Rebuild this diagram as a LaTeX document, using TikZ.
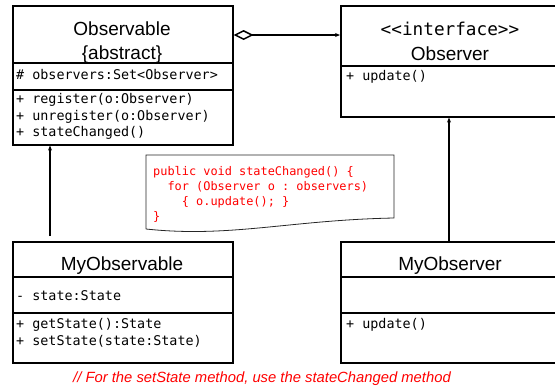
\documentclass[tikz,border=0pt]{standalone}
\usepackage{fontspec}
\setmainfont{Liberation Sans}
\setmonofont{DejaVu Sans Mono}
\usetikzlibrary{arrows.meta}
\begin{document}
\begin{tikzpicture}[x=1pt,y=-1pt,
  classbox/.style={draw, line width=1.6pt, rectangle, minimum width=220pt,
    anchor=north west, inner sep=0pt},
  sepline/.style={line width=1.6pt},
  title/.style={font=\fontsize{19}{23}\selectfont, anchor=base, inner sep=0pt},
  member/.style={font=\ttfamily\fontsize{13.4}{16}\selectfont, anchor=base west, inner sep=0pt},
  stereo/.style={font=\ttfamily\fontsize{17.7}{21}\selectfont, anchor=base, inner sep=0pt},
  code/.style={font=\ttfamily\fontsize{11.9}{14}\selectfont, text=red, anchor=base west, inner sep=0pt},
  link/.style={line width=1.5pt, -{Stealth[length=5pt,width=4pt]}},
]
\useasboundingbox (0,0) rectangle (555,389);
\clip (0,0) rectangle (555,389);

% class boxes
\node[classbox, minimum height=139pt] (obs)    at (12,5)   {};
\node[classbox, minimum height=111pt] (obsr)   at (340,5)  {};
\node[classbox, minimum height=121pt] (myobs)  at (12,241) {};
\node[classbox, minimum height=121pt] (myobsr) at (340,241) {};

% compartment separators
\draw[sepline] (12,63) -- (232,63);
\draw[sepline] (12,90) -- (232,90);
\draw[sepline] (340,66) -- (560,66);
\draw[sepline] (12,277) -- (232,277);
\draw[sepline] (12,313) -- (232,313);
\draw[sepline] (340,277) -- (560,277);
\draw[sepline] (340,313) -- (560,313);

% Observable
\node[title] (obsname) at (122,35) {Observable};
\node[title] (obsabs)  at (122,59) {\{abstract\}};
\node[member] (obsattr) at (16,79)  {\# observers:Set<Observer>};
\node[member] (obsm1)   at (16,103) {+ register(o:Observer)};
\node[member] (obsm2)   at (16,120) {+ unregister(o:Observer)};
\node[member] (obsm3)   at (16,136) {+ stateChanged()};

% Observer
\node[stereo] (obsrst)   at (450,35) {<{}<interface>{}>};
\node[title]  (obsrname) at (450,60) {Observer};
\node[member] (obsrm1)   at (346,80) {+ update()};

% MyObservable
\node[title]  (myobsname) at (122,270) {MyObservable};
\node[member] (myobsattr) at (16,300)  {- state:State};
\node[member] (myobsm1)   at (16,328)  {+ getState():State};
\node[member] (myobsm2)   at (16,345)  {+ setState(state:State)};

% MyObserver
\node[title]  (myobsrname) at (450,270) {MyObserver};
\node[member] (myobsrm1)   at (346,328) {+ update()};

% relations
\draw[link, {Diamond[open,length=20pt,width=10pt]}-{Stealth[length=5pt,width=4pt]}]
  ([yshift=-30pt]obs.north east) -- ([yshift=-30pt]obsr.north west);
\draw[link] ([xshift=38pt,yshift=5pt]myobs.north west) -- ([xshift=38pt]obs.south west);
\draw[link] ([xshift=109pt]myobsr.north west) -- ([xshift=109pt]obsr.south west);

% note
\draw[line width=0.8pt, draw=black!85]
  (146,229) -- (146,155) -- (394,155) -- (394,218)
  .. controls (290,220) and (230,238) .. (146,229);
\node[code] (c1) at (153,175) {public void stateChanged() \{};
\node[code] (c2) at (153,190) {\ \ for (Observer o : observers)};
\node[code] (c3) at (153,205) {\ \ \ \ \{ o.update(); \}};
\node[code] (c4) at (153,220) {\}};

% comment
\node[font=\itshape\fontsize{14.8}{17}\selectfont, text=red, anchor=base, inner sep=0pt]
  (remark) at (262,382) {// For the setState method, use the stateChanged method};
\end{tikzpicture}
\end{document}
